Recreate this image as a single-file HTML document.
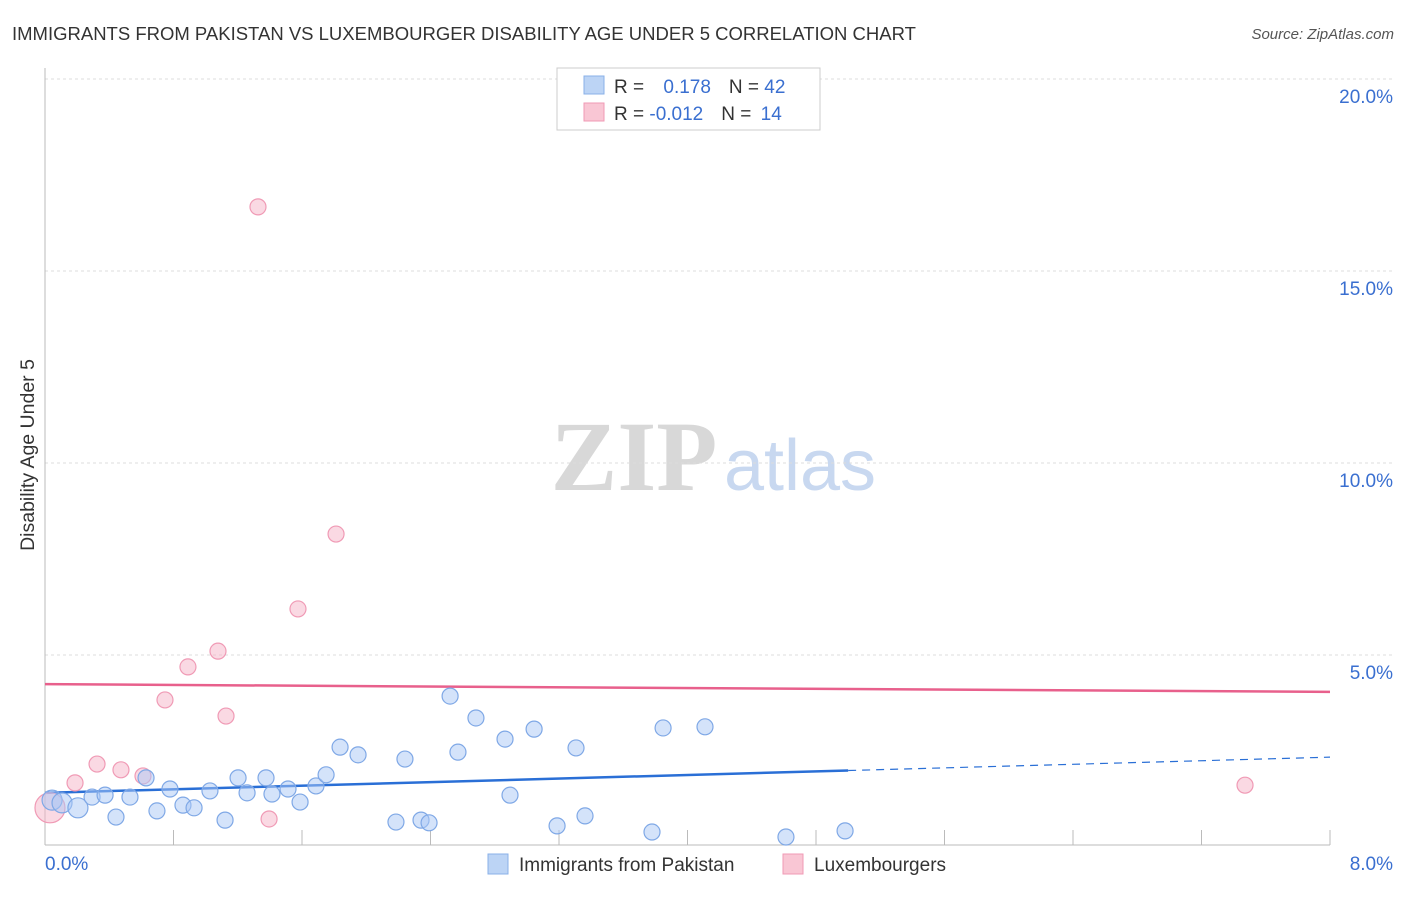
<!DOCTYPE html>
<html><head><meta charset="utf-8"><style>
body{margin:0;background:#fff;font-family:"Liberation Sans",sans-serif}
svg text{font-family:"Liberation Sans",sans-serif}
</style></head><body>
<svg id="c" width="1406" height="892">
<text x="12" y="40" font-size="18.5" fill="#333">IMMIGRANTS FROM PAKISTAN VS LUXEMBOURGER DISABILITY AGE UNDER 5 CORRELATION CHART</text>
<text x="1394" y="39" font-size="15" fill="#555" font-style="italic" text-anchor="end">Source: ZipAtlas.com</text>
<text transform="translate(34,455) rotate(-90)" font-size="19.5" fill="#333" text-anchor="middle">Disability Age Under 5</text>
<g><text x="634" y="490" font-size="100" font-family="Liberation Serif" fill="#d8d8d8" text-anchor="middle" style="font-family:'Liberation Serif',serif;font-weight:bold">ZIP</text><text x="800" y="490" font-size="72" fill="#c8d8f0" text-anchor="middle">atlas</text></g>
<g id="grid"></g><g id="ticks"></g><g id="trend"></g><g id="pts"></g>
<g>
<rect x="557" y="68" width="263" height="62" fill="#fff" stroke="#ccc"/>
<rect x="584" y="76" width="20" height="18" fill="#bcd4f5" stroke="#8ab0e8"/>
<rect x="584" y="103" width="20" height="18" fill="#f9c6d4" stroke="#f09ab5"/>
<text x="614" y="93" font-size="19" fill="#333">R = <tspan fill="#3a6fd0" dx="14">0.178</tspan><tspan dx="18">N = </tspan><tspan fill="#3a6fd0">42</tspan></text>
<text x="614" y="120" font-size="19" fill="#333">R = <tspan fill="#3a6fd0">-0.012</tspan><tspan dx="18">N = </tspan><tspan fill="#3a6fd0" dx="4">14</tspan></text>
</g>
<g>
<rect x="488" y="854" width="20" height="20" fill="#bcd4f5" stroke="#8ab0e8"/>
<text x="519" y="871" font-size="19" fill="#333">Immigrants from Pakistan</text>
<rect x="783" y="854" width="20" height="20" fill="#f9c6d4" stroke="#f09ab5"/>
<text x="814" y="871" font-size="19" fill="#333">Luxembourgers</text>
</g>
</svg>
<script>
const blueX=[0.044,0.106,0.205,0.293,0.374,0.442,0.529,0.629,0.697,0.778,0.859,0.928,1.027,1.121,1.202,1.258,1.376,1.413,1.513,1.588,1.687,1.750,1.837,1.949,2.185,2.241,2.341,2.391,2.522,2.571,2.683,2.864,2.895,3.045,3.188,3.306,3.362,3.779,3.848,4.109,4.613,4.981];
const blueY=[1.22,1.15,1.02,1.30,1.35,0.78,1.30,1.80,0.94,1.51,1.09,1.02,1.46,0.70,1.80,1.41,1.80,1.38,1.51,1.17,1.59,1.88,2.60,2.40,0.65,2.29,0.70,0.63,3.93,2.47,3.36,2.81,1.35,3.07,0.55,2.58,0.81,0.39,3.10,3.13,0.26,0.42];
const pinkX=[0.031,0.187,0.324,0.473,0.610,0.747,0.890,1.077,1.127,1.326,1.395,1.575,1.812,7.471];
const pinkY=[1.02,1.67,2.16,2.01,1.85,3.83,4.69,5.10,3.41,16.67,0.73,6.20,8.15,1.61];
const yTicks=[5,10,15,20];
const xTickLabels=["0.0%","8.0%"];
const blueTrend=[1.41,2.34];
const pinkTrend=[4.24,4.04];
const NS="http://www.w3.org/2000/svg";
const X=v=>45+v/8*1285, Y=v=>847-v*38.4;
function mk(p,t,a){const e=document.createElementNS(NS,t);for(const k in a)e.setAttribute(k,a[k]);document.getElementById(p).appendChild(e);return e;}
yTicks.forEach(t=>{
 let l=mk('grid','line',{x1:45,x2:1394,y1:Y(t),y2:Y(t),stroke:'#ddd','stroke-dasharray':'3,3'});
 
 
 let tx=mk('grid','text',{x:1393,y:Y(t)+24,'font-size':19,fill:'#3a6fd0','text-anchor':'end'});
 tx.textContent=t.toFixed(1)+'%';
 
 
});
let ax=mk('ticks','line',{x1:45,x2:45,y1:68,y2:845,stroke:'#bbb'});


let bx=mk('ticks','line',{x1:45,x2:1330,y1:845,y2:845,stroke:'#bbb'});


for(let i=0;i<=10;i++){let v=i*0.8;let t=mk('ticks','line',{x1:X(v),x2:X(v),y1:830,y2:845,stroke:'#bbb'});
 
 }
[[0,'start',45],[8,'end',1393]].forEach((d,i)=>{let t=mk('ticks','text',{x:d[2],y:870,'font-size':19,fill:'#3a6fd0','text-anchor':d[1]});t.textContent=xTickLabels[i];
 
 });
const bs=(blueTrend[1]-blueTrend[0])/8;
let b1=mk('trend','line',{x1:X(0),y1:Y(blueTrend[0]),x2:X(5),y2:Y(blueTrend[0]+bs*5),stroke:'#2a6fd6','stroke-width':2.5});


let b2=mk('trend','line',{x1:X(5),y1:Y(blueTrend[0]+bs*5),x2:X(8),y2:Y(blueTrend[1]),stroke:'#2a6fd6','stroke-width':1.2,'stroke-dasharray':'8,6'});


let p1=mk('trend','line',{x1:X(0),y1:Y(pinkTrend[0]),x2:X(8),y2:Y(pinkTrend[1]),stroke:'#e8608c','stroke-width':2.5});


pinkX.forEach((x,i)=>{let c=mk('pts','circle',{cx:X(x),cy:Y(pinkY[i]),r:i==0?15:8,fill:'rgba(246,180,200,0.5)',stroke:'#f09ab5','stroke-width':1.2});
 
 });
blueX.forEach((x,i)=>{let c=mk('pts','circle',{cx:X(x),cy:Y(blueY[i]),r:i<3?10:8,fill:'rgba(170,200,245,0.5)',stroke:'#7fa8e6','stroke-width':1.2});
 
 });
</script>
</body></html>
